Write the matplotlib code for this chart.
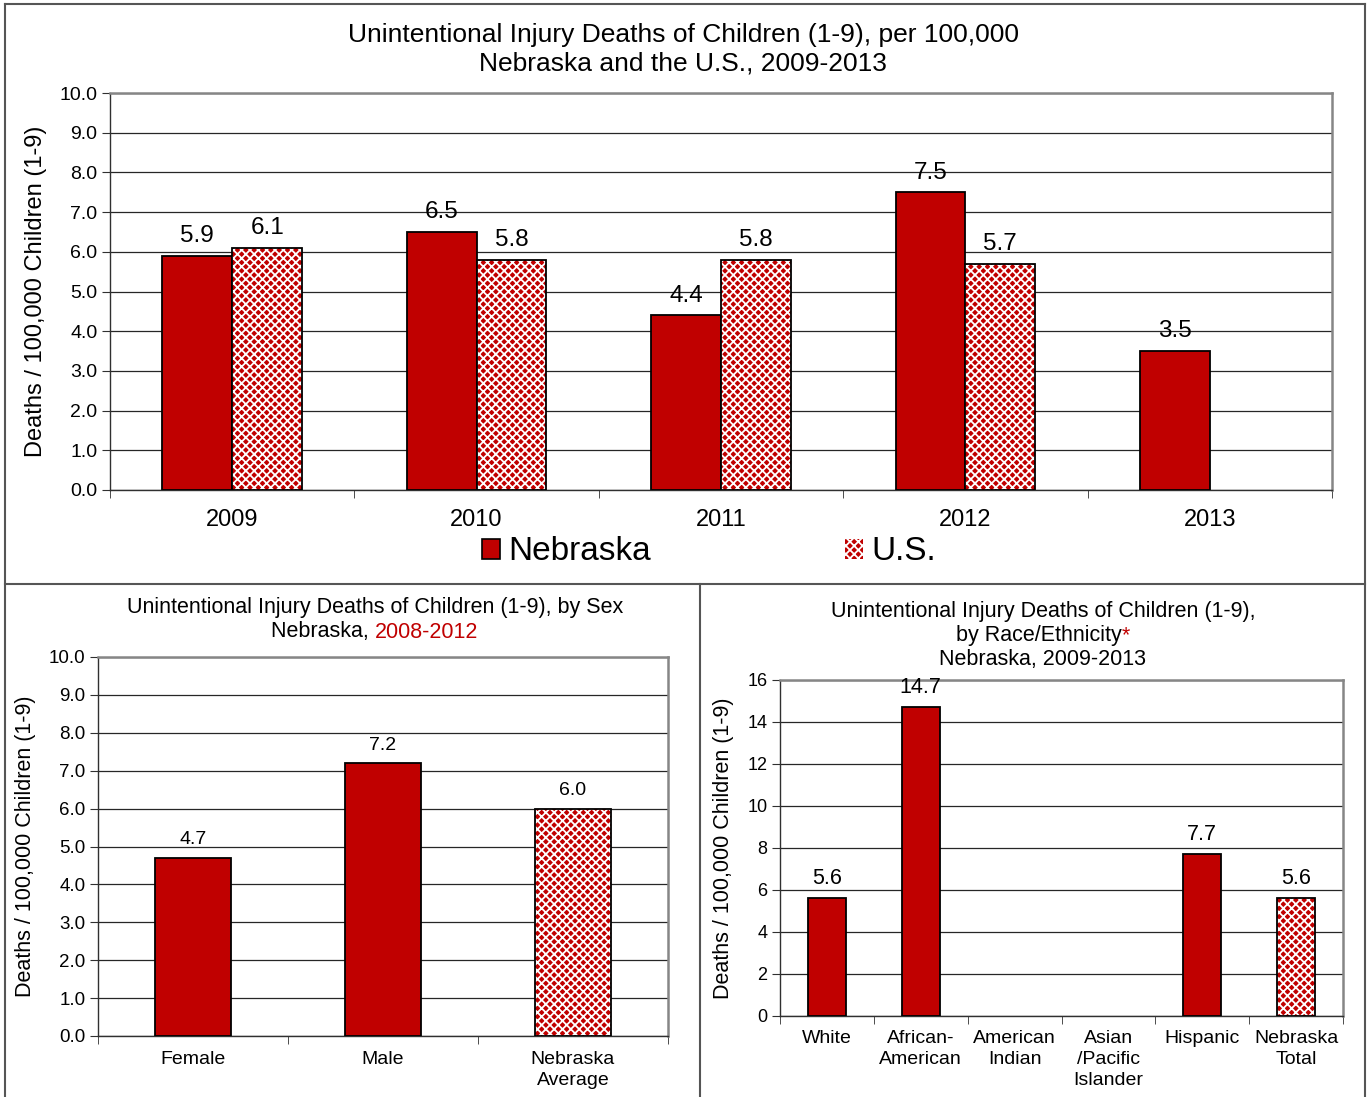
import matplotlib
matplotlib.use("Agg")
import matplotlib.pyplot as plt
import numpy as np
from matplotlib.patches import Patch
from matplotlib.lines import Line2D

plt.rcParams['font.family'] = ['Liberation Sans', 'DejaVu Sans']
plt.rcParams['hatch.linewidth'] = 1.3

RED = '#C00000'
GRID = '#262626'
FRAME = '#868686'

# ---- data ----
years = ['2009', '2010', '2011', '2012', '2013']
ne_year = [5.9, 6.5, 4.4, 7.5, 3.5]
us_year = [6.1, 5.8, 5.8, 5.7, np.nan]

sex_cats = ['Female', 'Male', 'Nebraska\nAverage']
sex_vals = [4.7, 7.2, 6.0]

race_cats = ['White', 'African-\nAmerican', 'American\nIndian', 'Asian\n/Pacific\nIslander', 'Hispanic', 'Nebraska\nTotal']
race_vals = [5.6, 14.7, np.nan, np.nan, 7.7, 5.6]

W, H = 1367, 1097
fig = plt.figure(figsize=(W/100, H/100), dpi=100)

def fx(x): return x / W
def fy(y): return 1 - y / H

HATCH = 'xxxx'

def hbar(ax, x, h, w, hatched):
    if np.isnan(h):
        return
    if hatched:
        ax.bar(x, h, w, facecolor=RED, edgecolor='white', hatch=HATCH, linewidth=0, zorder=3)
        ax.bar(x, h, w, fill=False, edgecolor='black', linewidth=1.3, zorder=4)
    else:
        ax.bar(x, h, w, facecolor=RED, edgecolor='black', linewidth=1.3, zorder=3)

def style_axes(ax, n, ymax, ystep, fmt, ytick_fs, xtick_fs, xpad):
    ax.set_xlim(-0.5, n - 0.5)
    ax.set_ylim(0, ymax)
    yt = np.arange(0, ymax + 1e-9, ystep)
    ax.set_yticks(yt)
    ax.set_yticklabels([fmt.format(v) for v in yt], fontsize=ytick_fs)
    ax.grid(axis='y', color=GRID, linewidth=0.9, zorder=0)
    ax.set_axisbelow(True)
    for s in ax.spines.values():
        s.set_color(FRAME)
        s.set_linewidth(1.8)
    ax.spines['left'].set_color('#303030')
    ax.spines['bottom'].set_color('#303030')
    ax.spines['left'].set_linewidth(1.0)
    ax.spines['bottom'].set_linewidth(1.0)
    ax.set_xticks(np.arange(n))
    ax.tick_params(axis='x', which='major', length=0, labelsize=xtick_fs, pad=xpad)
    ax.set_xticks(np.arange(-0.5, n, 1.0), minor=True)
    ax.tick_params(axis='x', which='minor', length=6, direction='out', color='#303030')
    ax.tick_params(axis='y', length=6, direction='out', color='#303030', pad=3)

# ---- panel borders ----
border_kw = dict(color='#555555', linewidth=1.5, transform=fig.transFigure)
fig.add_artist(Line2D([fx(5), fx(5)], [fy(4), fy(1097)], **border_kw))
fig.add_artist(Line2D([fx(1365), fx(1365)], [fy(4), fy(1097)], **border_kw))
fig.add_artist(Line2D([fx(5), fx(1365)], [fy(584), fy(584)], **border_kw))
fig.add_artist(Line2D([fx(5), fx(1365)], [fy(4), fy(4)], **border_kw))
fig.add_artist(Line2D([fx(700), fx(700)], [fy(584), fy(1097)], **border_kw))

# ---- top chart ----
ax1 = fig.add_axes([fx(110), fy(490), fx(1332) - fx(110), fy(93) - fy(490)])
bw = 0.286
x = np.arange(len(years))
for i in range(len(years)):
    if not np.isnan(ne_year[i]):
        hbar(ax1, x[i] - bw / 2, ne_year[i], bw, False)
        ax1.text(x[i] - bw / 2, ne_year[i] + 0.22, f'{ne_year[i]:.1f}', ha='center', va='bottom', fontsize=17.5)
    if not np.isnan(us_year[i]):
        hbar(ax1, x[i] + bw / 2, us_year[i], bw, True)
        ax1.text(x[i] + bw / 2, us_year[i] + 0.22, f'{us_year[i]:.1f}', ha='center', va='bottom', fontsize=17.5)
style_axes(ax1, len(years), 10, 1, '{:.1f}', 14, 17, 14)
ax1.set_xticklabels(years)
ax1.set_ylabel('Deaths / 100,000 Children (1-9)', fontsize=17, labelpad=9)
fig.text(fx(683), fy(35), 'Unintentional Injury Deaths of Children (1-9), per 100,000',
         ha='center', va='center', fontsize=19)
fig.text(fx(683), fy(64), 'Nebraska and the U.S., 2009-2013',
         ha='center', va='center', fontsize=19)
handles = [Patch(facecolor=RED, edgecolor='black', linewidth=1.2),
           Patch(facecolor=RED, edgecolor='white', hatch=HATCH, linewidth=0)]
leg = fig.legend(handles, ['Nebraska', 'U.S.'], loc='center', bbox_to_anchor=(fx(709), fy(552)),
                 ncol=2, frameon=False, fontsize=24, handlelength=0.55, handleheight=0.55,
                 handletextpad=0.25, columnspacing=5.8)

# ---- bottom left ----
ax2 = fig.add_axes([fx(98), fy(1036), fx(668) - fx(98), fy(657) - fy(1036)])
x2 = np.arange(len(sex_cats))
for i, v in enumerate(sex_vals):
    hbar(ax2, x2[i], v, 0.4, i == len(sex_vals) - 1)
    ax2.text(x2[i], v + 0.25, f'{v:.1f}', ha='center', va='bottom', fontsize=14)
style_axes(ax2, len(sex_cats), 10, 1, '{:.1f}', 13.5, 14, 11)
ax2.set_xticklabels(sex_cats, linespacing=1.3)
ax2.set_ylabel('Deaths / 100,000 Children (1-9)', fontsize=15.5, labelpad=9.5)

# ---- bottom right ----
ax3 = fig.add_axes([fx(780), fy(1016), fx(1343) - fx(780), fy(680) - fy(1016)])
x3 = np.arange(len(race_cats))
for i, v in enumerate(race_vals):
    if np.isnan(v):
        continue
    hbar(ax3, x3[i], v, 0.4, i == len(race_vals) - 1)
    ax3.text(x3[i], v + 0.45, f'{v:.1f}', ha='center', va='bottom', fontsize=15.5)
style_axes(ax3, len(race_cats), 16, 2, '{:.0f}', 13, 14, 10)
ax3.set_xticklabels(race_cats, linespacing=1.3)
ax3.set_ylabel('Deaths / 100,000 Children (1-9)', fontsize=15.5, labelpad=9.5)

# ---- bottom titles with mixed colors ----
renderer = fig.canvas.get_renderer()

def mixed_line(parts, xc, y, fs):
    texts = []
    widths = []
    for s, c in parts:
        t = fig.text(0, 0, s, color=c, fontsize=fs, va='center', ha='left')
        bb = t.get_window_extent(renderer=renderer)
        widths.append(bb.width)
        texts.append(t)
    total = sum(widths)
    cur = xc - total / 2
    for t, w in zip(texts, widths):
        t.set_position((fx(cur), fy(y)))
        cur += w

fs_sub = 15.5
mixed_line([('Unintentional Injury Deaths of Children (1-9), by Sex', 'black')], 375, 607, fs_sub)
mixed_line([('Nebraska, ', 'black'), ('2008-2012', RED)], 375, 632, fs_sub)
mixed_line([('Unintentional Injury Deaths of Children (1-9),', 'black')], 1043, 612, fs_sub)
mixed_line([('by Race/Ethnicity', 'black'), ('*', RED)], 1043, 636, fs_sub)
mixed_line([('Nebraska, 2009-2013', 'black')], 1043, 660, fs_sub)

fig.savefig('out.png', dpi=100)
